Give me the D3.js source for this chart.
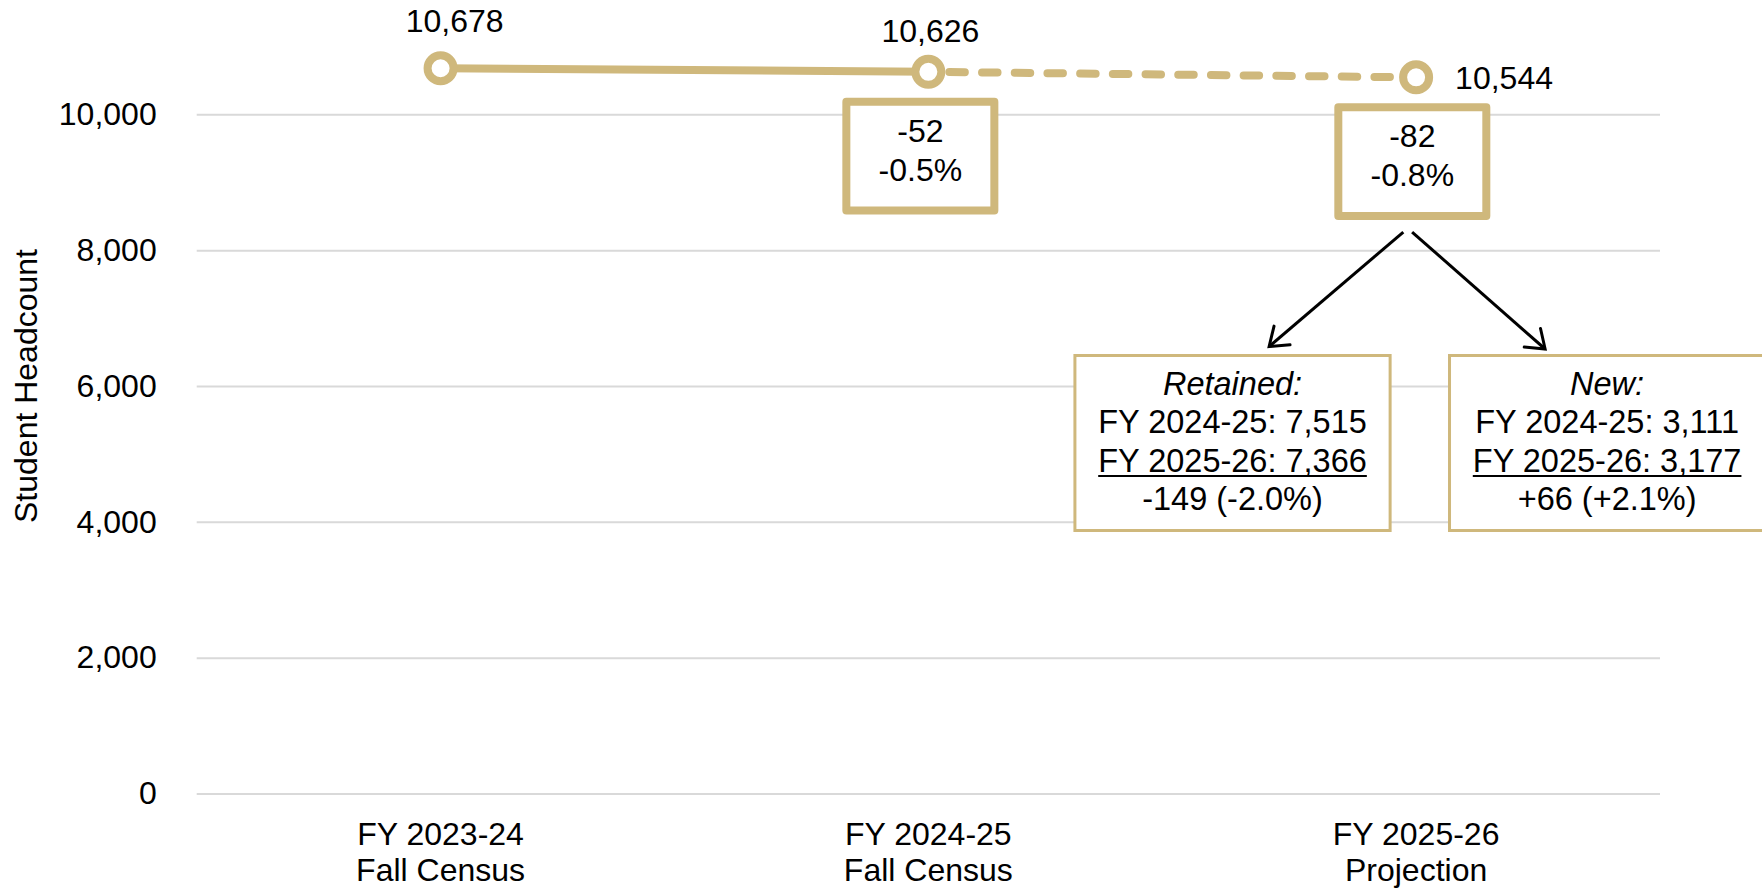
<!DOCTYPE html>
<html>
<head>
<meta charset="utf-8">
<script src="https://cdn.jsdelivr.net/npm/d3@7"></script>
<style>
  html, body { margin: 0; padding: 0; background: #ffffff; }
  svg { display: block; }
  text { font-family: "Liberation Sans", Arial, Helvetica, sans-serif; fill: #000; }
</style>
</head>
<body>
<svg id="chart" width="1762" height="889"></svg>
<script>
// Fall census headcount by fiscal year (last year is a projection)
const categoryLines = [
  ["FY 2023-24", "Fall Census"],
  ["FY 2024-25", "Fall Census"],
  ["FY 2025-26", "Projection"]
];
const categories = categoryLines.map(d => d[0]);
const headcount = [10678, 10626, 10544];
const yTicks = [0, 2000, 4000, 6000, 8000, 10000];

// Breakdown of the projected year: retained vs. new students
const breakdownYears = ["FY 2024-25", "FY 2025-26"];
const retained = [7515, 7366];
const newStudents = [3111, 3177];

const gold = "#CFB87C";
const fontSize = 32;
const boxFontSize = 32.5;

const svg = d3.select("#chart");

const plotLeft = 196.7, plotRight = 1660;
const x = d3.scalePoint().domain(categories).range([plotLeft, plotRight]).padding(0.5);
const y = d3.scaleLinear().domain([0, 10000]).range([793.5, 114.3]);

// Plain hyphen for negative numbers
const locale = d3.formatLocale({ decimal: ".", thousands: ",", grouping: [3], currency: ["$", ""], minus: "-" });
const fmt = locale.format(",");
const signed = v => (v > 0 ? "+" : "") + fmt(v);
const pct = (v, base) => (v > 0 ? "+" : "") + (v / base * 100).toFixed(1) + "%";

// Gridlines and y tick labels
const yAxis = d3.axisLeft(y).tickValues(yTicks).tickFormat(fmt)
  .tickSize(-(plotRight - plotLeft)).tickPadding(40);
const gy = svg.append("g").attr("transform", `translate(${plotLeft},0)`).call(yAxis);
gy.select(".domain").remove();
gy.selectAll(".tick line").attr("stroke", "#d9d9d9").attr("stroke-width", 2);
gy.selectAll(".tick text")
  .attr("font-size", fontSize)
  .attr("font-family", "Liberation Sans, Arial, sans-serif")
  .attr("fill", "#000");

// Y axis title
svg.append("text")
  .attr("transform", `translate(37,386) rotate(-90)`)
  .attr("text-anchor", "middle")
  .attr("font-size", fontSize)
  .text("Student Headcount");

// Category labels (two lines each)
const gx = svg.append("g");
categoryLines.forEach((lines, i) => {
  const t = gx.append("text")
    .attr("x", x(categories[i]))
    .attr("y", 845)
    .attr("text-anchor", "middle")
    .attr("font-size", fontSize);
  lines.forEach((ln, j) => {
    t.append("tspan").attr("x", x(categories[i])).attr("dy", j === 0 ? 0 : 36).text(ln);
  });
});

// Headcount line: actuals solid, projection dashed
const pts = headcount.map((v, i) => [x(categories[i]), y(v)]);
const line = d3.line();
svg.append("path")
  .attr("d", line(pts.slice(0, 2)))
  .attr("fill", "none").attr("stroke", gold).attr("stroke-width", 8);
svg.append("path")
  .attr("d", line(pts.slice(1, 3)))
  .attr("fill", "none").attr("stroke", gold).attr("stroke-width", 8)
  .attr("stroke-linecap", "round")
  .attr("stroke-dasharray", "15.5 17.2")
  .attr("stroke-dashoffset", -21);

svg.selectAll("circle.pt").data(pts).join("circle")
  .attr("class", "pt")
  .attr("cx", d => d[0]).attr("cy", d => d[1]).attr("r", 13)
  .attr("fill", "#fff").attr("stroke", gold).attr("stroke-width", 8);

// Value labels
const labelPos = [
  { dx: 14, dy: -36, anchor: "middle" },
  { dx: 2, dy: -30, anchor: "middle" },
  { dx: 39, dy: 12, anchor: "start" }
];
svg.selectAll("text.val").data(headcount).join("text")
  .attr("class", "val")
  .attr("x", (d, i) => pts[i][0] + labelPos[i].dx)
  .attr("y", (d, i) => pts[i][1] + labelPos[i].dy)
  .attr("text-anchor", (d, i) => labelPos[i].anchor)
  .attr("font-size", fontSize)
  .text(d => fmt(d));

// Year-over-year change boxes
const changeBoxes = [
  { i: 1, offX: -8 },
  { i: 2, offX: -3.8 }
];
const boxW = 156, boxH = 116.7, boxStroke = 8;
changeBoxes.forEach(b => {
  const delta = headcount[b.i] - headcount[b.i - 1];
  const cx = pts[b.i][0] + b.offX;
  const top = pts[b.i][1] + 26;
  b.cx = cx; b.bottom = top + boxH;
  svg.append("rect")
    .attr("x", cx - boxW / 2 + boxStroke / 2)
    .attr("y", top + boxStroke / 2)
    .attr("width", boxW - boxStroke)
    .attr("height", boxH - boxStroke)
    .attr("fill", "#fff")
    .attr("stroke", gold).attr("stroke-width", boxStroke)
    .attr("stroke-linejoin", "round");
  svg.append("text").attr("x", cx).attr("y", top + 44)
    .attr("text-anchor", "middle").attr("font-size", fontSize)
    .text(signed(delta));
  svg.append("text").attr("x", cx).attr("y", top + 83)
    .attr("text-anchor", "middle").attr("font-size", fontSize)
    .text(pct(delta, headcount[b.i - 1]));
});

// Retained / new breakdown boxes
const xp = x(categories[2]);
const bdTop = 354, bdW = 318.2, bdH = 178, bdStroke = 3;
const breakdown = [
  { title: "Retained:", vals: retained, left: xp - 342.7 },
  { title: "New:", vals: newStudents, left: xp + 31.9 }
];
breakdown.forEach(b => {
  const cx = b.left + bdW / 2;
  svg.append("rect")
    .attr("x", b.left + bdStroke / 2).attr("y", bdTop + bdStroke / 2)
    .attr("width", bdW - bdStroke).attr("height", bdH - bdStroke)
    .attr("fill", "#fff").attr("stroke", gold).attr("stroke-width", bdStroke);
  const d = b.vals[1] - b.vals[0];
  const rows = [
    { t: b.title, italic: true },
    { t: `${breakdownYears[0]}: ${fmt(b.vals[0])}` },
    { t: `${breakdownYears[1]}: ${fmt(b.vals[1])}`, underline: true },
    { t: `${signed(d)} (${pct(d, b.vals[0])})` }
  ];
  rows.forEach((r, k) => {
    const t = svg.append("text")
      .attr("x", cx).attr("y", bdTop + 41 + k * 38.3)
      .attr("text-anchor", "middle").attr("font-size", boxFontSize)
      .attr("font-style", r.italic ? "italic" : null)
      .text(r.t);
    if (r.underline) {
      const w = t.node().getComputedTextLength();
      svg.append("line")
        .attr("x1", cx - w / 2).attr("x2", cx + w / 2)
        .attr("y1", bdTop + 41 + k * 38.3 + 4.5).attr("y2", bdTop + 41 + k * 38.3 + 4.5)
        .attr("stroke", "#000").attr("stroke-width", 2);
    }
  });
});

// Arrows from the projected change box to the breakdown boxes
const src = changeBoxes[1];
const arrows = [
  { x1: src.cx - 9, y1: src.bottom + 12, x2: xp - 147, y2: bdTop - 7.5 },
  { x1: src.cx - 0.2, y1: src.bottom + 12, x2: xp + 129, y2: bdTop - 5 }
];
arrows.forEach(a => {
  svg.append("line")
    .attr("x1", a.x1).attr("y1", a.y1).attr("x2", a.x2).attr("y2", a.y2)
    .attr("stroke", "#000").attr("stroke-width", 3);
  const ang = Math.atan2(a.y1 - a.y2, a.x1 - a.x2);
  const len = 21, spread = 36 * Math.PI / 180;
  const p1 = [a.x2 + len * Math.cos(ang - spread), a.y2 + len * Math.sin(ang - spread)];
  const p2 = [a.x2 + len * Math.cos(ang + spread), a.y2 + len * Math.sin(ang + spread)];
  svg.append("path")
    .attr("d", `M${p1[0]},${p1[1]}L${a.x2},${a.y2}L${p2[0]},${p2[1]}`)
    .attr("fill", "none").attr("stroke", "#000").attr("stroke-width", 3)
    .attr("stroke-linecap", "round").attr("stroke-linejoin", "miter");
});
</script>
</body>
</html>
